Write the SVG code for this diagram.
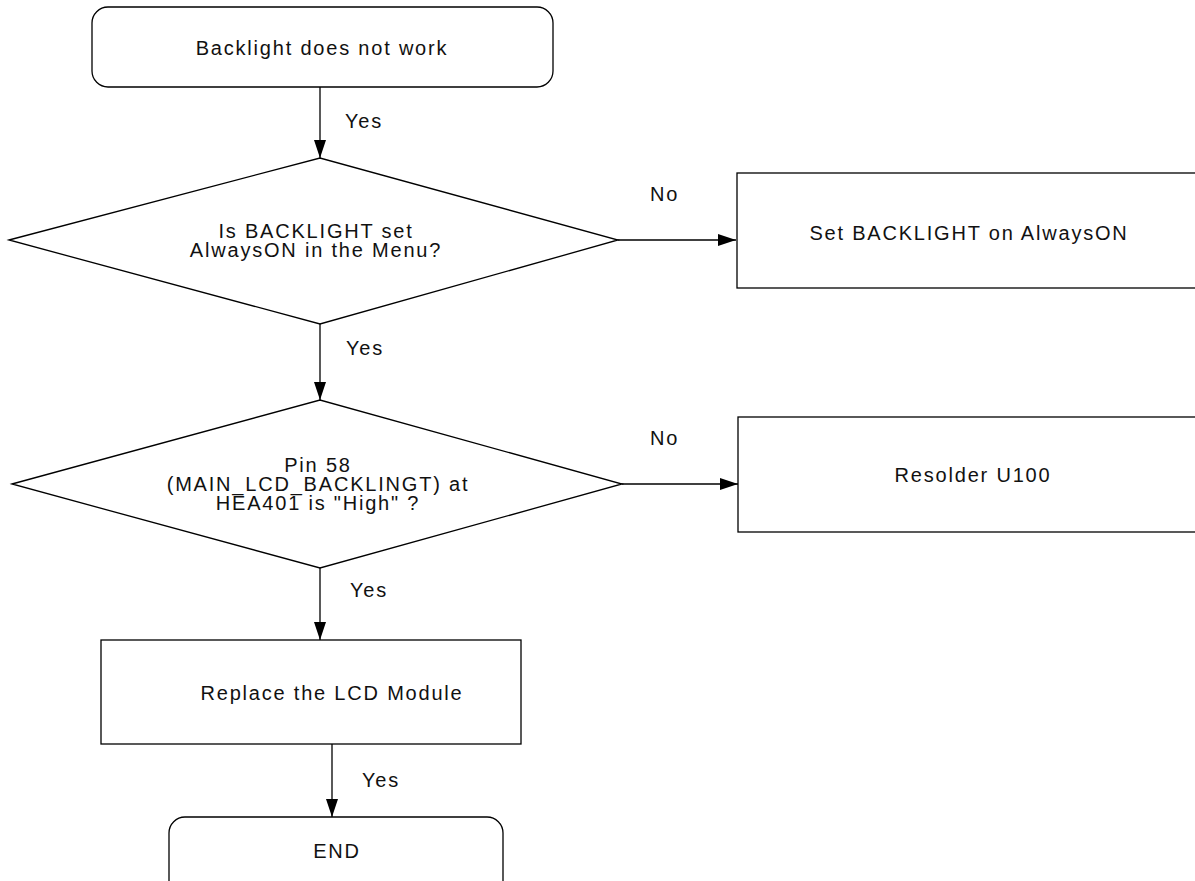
<svg xmlns="http://www.w3.org/2000/svg" width="1195" height="881" viewBox="0 0 1195 881">
<defs>
<style>
.s{fill:#fff;stroke:#000;stroke-width:1.3}
.t{font-family:"Liberation Sans",Arial,sans-serif;font-size:20px;fill:#111;letter-spacing:1.8px}
.m{text-anchor:middle}
.c{stroke:#000;stroke-width:1.3;fill:none}
</style>
<marker id="ah" viewBox="0 0 18 12" refX="18" refY="6" markerWidth="18" markerHeight="12" markerUnits="userSpaceOnUse" orient="auto">
<path d="M0,0 L18,6 L0,12 Z" fill="#000"/>
</marker>
</defs>
<rect width="1195" height="881" fill="#fff"/>
<g id="connectors">
<line class="c" x1="320" y1="87" x2="320" y2="158" marker-end="url(#ah)"/>
<line class="c" x1="618" y1="240" x2="736" y2="240" marker-end="url(#ah)"/>
<line class="c" x1="320" y1="324" x2="320" y2="400" marker-end="url(#ah)"/>
<line class="c" x1="622" y1="484" x2="738" y2="484" marker-end="url(#ah)"/>
<line class="c" x1="320" y1="568" x2="320" y2="640" marker-end="url(#ah)"/>
<line class="c" x1="332" y1="744" x2="332" y2="817" marker-end="url(#ah)"/>
<text class="t" x="345" y="128">Yes</text>
<text class="t" x="650" y="201">No</text>
<text class="t" x="346" y="355">Yes</text>
<text class="t" x="650" y="445">No</text>
<text class="t" x="350" y="597">Yes</text>
<text class="t" x="362" y="787">Yes</text>
</g>
<g id="start">
<rect class="s" x="92" y="7" width="461" height="80" rx="16"/>
<text class="t m" x="322" y="55">Backlight does not work</text>
</g>
<g id="decision1">
<polygon class="s" points="9,240 320,158 618,240 320,324"/>
<text class="t m" x="316" y="238">Is BACKLIGHT set</text>
<text class="t m" x="316" y="257">AlwaysON in the Menu?</text>
</g>
<g id="setBacklight">
<rect class="s" x="737" y="173" width="470" height="115"/>
<text class="t m" x="969" y="240">Set BACKLIGHT on AlwaysON</text>
</g>
<g id="decision2">
<polygon class="s" points="12,484 320,400 622,484 320,568"/>
<text class="t m" x="318" y="472">Pin 58</text>
<text class="t m" x="318" y="491">(MAIN_LCD_BACKLINGT) at</text>
<text class="t m" x="318" y="510">HEA401 is "High" ?</text>
</g>
<g id="resolder">
<rect class="s" x="738" y="417" width="470" height="115"/>
<text class="t m" x="973" y="482">Resolder U100</text>
</g>
<g id="replace">
<rect class="s" x="101" y="640" width="420" height="104"/>
<text class="t m" x="332" y="700">Replace the LCD Module</text>
</g>
<g id="end">
<rect class="s" x="169" y="817" width="334" height="90" rx="16"/>
<text class="t m" x="337" y="858">END</text>
</g>
</svg>
